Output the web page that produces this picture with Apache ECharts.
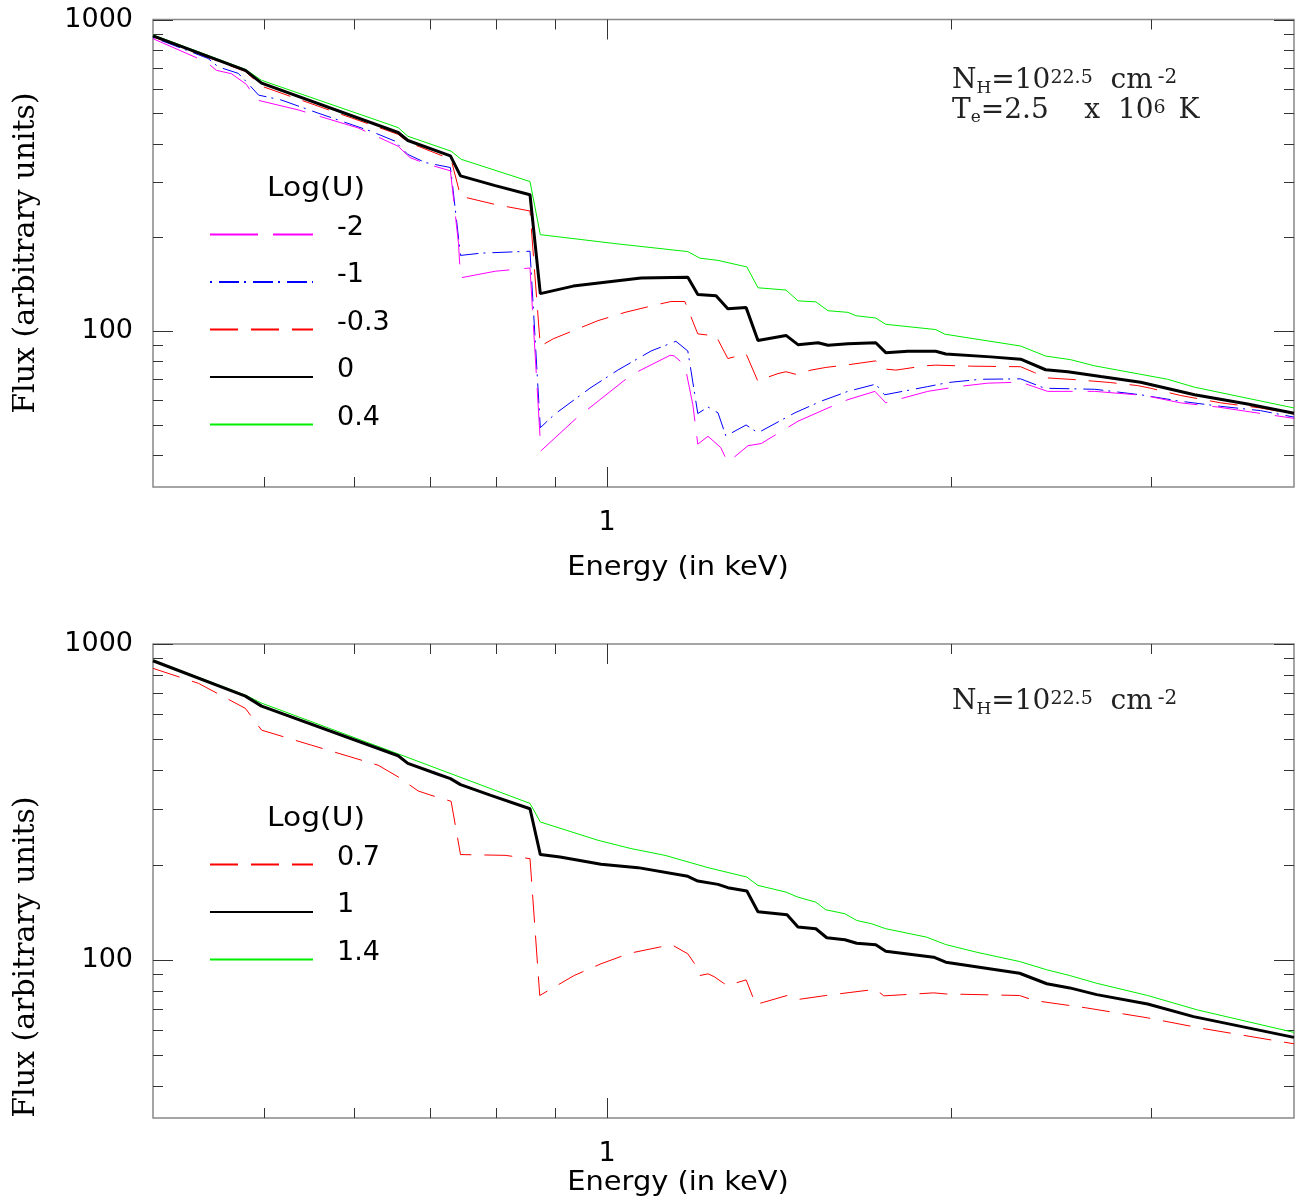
<!DOCTYPE html>
<html>
<head>
<meta charset="utf-8">
<script src="https://cdn.jsdelivr.net/npm/echarts@6/dist/echarts.min.js"></script>
<style>
  html, body { margin: 0; padding: 0; background: #fff; }
  #chart { width: 1308px; height: 1201px; }
</style>
</head>
<body>
<div id="chart"></div>
<script>
// ---- axis ranges and ticks (energy in keV, flux in arbitrary units) ----
const energyMin = 0.4;
const energyMax = 4;
const fluxMin = Math.pow(10, 1.5);
const fluxMax = 1000;

const energyMajorTicks = [1];
const energyMinorTicks = [0.5, 0.6, 0.7, 0.8, 0.9, 2, 3];
const fluxMajorTicks = [100, 1000];
const fluxMinorTicks = [40, 50, 60, 70, 80, 90, 200, 300, 400, 500, 600, 700, 800, 900];
const energyLabels = [1];
const fluxLabels = [100, 1000];

// ---- legend entries: Log(U) of each spectrum ----
const logUTop = ['-2', '-1', '-0.3', '0', '0.4'];
const logUBottom = ['0.7', '1', '1.4'];

// ---- upper panel spectra: [energy keV, flux] ----
const specLogUm2 = [[0.4,868],[0.4456,730],[0.4546,687],[0.4686,670],[0.483,619],[0.493,552],[0.536,513],[0.605,449],[0.656,392],[0.672,360.5],[0.693,345],[0.729,327],[0.741,191],[0.744,148.3],[0.798,155.7],[0.856,159.5],[0.875,41.3],[0.9375,52.1],[1.050,72.4],[1.136,83.7],[1.145,83.3],[1.170,77.8],[1.189,58.1],[1.201,43.4],[1.226,46.0],[1.258,42.3],[1.276,37.9],[1.329,42.9],[1.365,43.6],[1.470,51.4],[1.562,56.7],[1.626,60.3],[1.717,64.1],[1.755,58.9],[1.910,64.1],[2.030,66.4],[2.156,68.1],[2.304,68.6],[2.433,64.1],[2.675,64.1],[2.959,62.2],[3.18,58.9],[3.428,57.1],[4.0,52.5]];

const specLogUm1 = [[0.4,876],[0.447,750],[0.4565,704],[0.475,672],[0.483,631],[0.495,572],[0.518,552],[0.558,501],[0.621,438],[0.652,407],[0.656,397],[0.669,369],[0.693,347.5],[0.729,335],[0.733,283],[0.744,175],[0.776,178],[0.856,180.5],[0.874,49.0],[0.900,54.2],[0.966,65.6],[1.022,75.0],[1.093,86.4],[1.149,92.8],[1.177,86.4],[1.185,74.1],[1.201,54.4],[1.226,57.1],[1.251,54.7],[1.271,46.1],[1.324,50.0],[1.356,47.2],[1.461,54.7],[1.540,59.6],[1.626,64.1],[1.720,67.6],[1.751,62.5],[1.910,66.4],[1.989,68.4],[2.126,70.1],[2.304,70.3],[2.418,65.6],[2.675,65.1],[2.935,62.5],[3.18,59.6],[3.449,57.4],[3.738,55.6],[4.0,53.0]];

const specLogUm03 = [[0.4,880],[0.482,681],[0.498,611],[0.656,428],[0.669,404],[0.730,356],[0.744,271],[0.798,255],[0.856,243],[0.874,89.5],[0.897,94.5],[0.982,108.1],[1.037,114.9],[1.104,121.5],[1.138,124.5],[1.170,124.5],[1.201,98.0],[1.246,96.5],[1.276,81.7],[1.324,84.5],[1.356,69.0],[1.376,70.7],[1.412,73.1],[1.435,74.1],[1.464,72.7],[1.509,75.0],[1.555,76.5],[1.626,78.0],[1.720,80.3],[1.751,75.6],[1.791,75.0],[1.899,77.4],[1.941,77.8],[2.092,77.2],[2.304,76.9],[2.370,73.6],[2.433,70.8],[2.585,69.8],[2.763,68.4],[2.917,66.9],[2.995,65.6],[3.18,62.2],[3.449,58.9],[3.738,56.7],[4.0,54.2]];

const specLogU0 = [[0.4,886],[0.482,687],[0.498,625],[0.656,434],[0.669,409],[0.729,365],[0.744,315],[0.798,293],[0.856,274],[0.874,132],[0.934,139.5],[1.071,148],[1.177,149],[1.201,131],[1.246,130],[1.276,118],[1.324,119],[1.356,93.4],[1.435,96.9],[1.470,90.5],[1.531,91.8],[1.562,90.1],[1.626,91.1],[1.720,91.8],[1.755,85.3],[1.835,86.2],[1.941,86.2],[1.981,84.5],[2.169,82.7],[2.304,81.3],[2.423,75.2],[2.534,74.1],[2.708,71.5],[2.935,68.6],[3.273,62.5],[3.642,58.4],[4.0,54.5]];

const specLogU04 = [[0.4,893],[0.482,692],[0.498,638],[0.656,450],[0.669,422],[0.730,378],[0.745,356],[0.856,302],[0.874,204],[1.016,191],[1.177,180],[1.206,171.5],[1.251,168.7],[1.326,160.7],[1.356,137.8],[1.435,135.5],[1.470,125.1],[1.524,124.2],[1.562,116.3],[1.626,114.9],[1.652,112.1],[1.720,110.2],[1.755,105.2],[1.941,101.2],[1.977,97.8],[2.304,89.6],[2.423,83.2],[2.549,81.0],[2.675,77.4],[3.099,70.1],[3.273,66.1],[4.0,56.7]];

// ---- lower panel spectra: [energy keV, flux] ----
const specLogU07 = [[0.4,837.5],[0.4385,750.6],[0.482,625.5],[0.498,533.8],[0.5506,478.6],[0.630,413.5],[0.656,379.8],[0.683,342.8],[0.701,332.2],[0.730,317.9],[0.744,215.6],[0.814,214.4],[0.856,209.3],[0.873,77.2],[0.9357,89.3],[0.988,97.3],[1.0474,105.1],[1.111,109.8],[1.140,111.7],[1.177,104.6],[1.199,94.9],[1.206,89.3],[1.226,90.4],[1.241,88.6],[1.274,83.0],[1.324,86.5],[1.350,72.3],[1.372,73.5],[1.438,77.2],[1.470,75.0],[1.555,77.2],[1.720,80.8],[1.748,77.0],[1.933,78.7],[1.981,78.1],[2.299,77.2],[2.370,74.4],[2.627,70.6],[2.977,65.6],[3.319,60.8],[4.0,54.3]];

const specLogU1 = [[0.4,885],[0.482,684],[0.498,636],[0.656,443],[0.669,419],[0.711,387],[0.729,375],[0.744,359],[0.791,332],[0.856,301],[0.874,215.6],[0.9095,211.9],[0.988,200.8],[1.0645,196],[1.177,184],[1.201,177.8],[1.251,173.5],[1.276,169.4],[1.326,165.3],[1.356,142.2],[1.438,139.1],[1.470,127.1],[1.524,125.6],[1.558,117.6],[1.616,115.9],[1.655,113.0],[1.720,111.7],[1.755,106.6],[1.933,102.1],[1.981,98.4],[2.299,90.8],[2.429,84.1],[2.544,81.6],[2.686,77.7],[2.977,72.6],[3.266,66.2],[4.0,56.9]];

const specLogU14 = [[0.4,890],[0.482,689],[0.498,650],[0.656,449],[0.856,313],[0.874,273.4],[0.982,239.2],[1.0496,225.2],[1.124,214.4],[1.226,196],[1.326,183],[1.356,172.2],[1.435,164],[1.470,158.1],[1.524,152.4],[1.555,144.2],[1.616,140.1],[1.655,133.4],[1.706,130.2],[1.755,125.6],[1.906,118.1],[1.981,111.9],[2.109,105.8],[2.299,98.9],[2.429,93.1],[2.544,89.3],[2.686,84.4],[2.977,77.2],[3.292,69.5],[4.0,59.0]];

// ---- drawing ----
const SANS = '"DejaVu Sans", "Liberation Sans", sans-serif';
const SERIF = '"DejaVu Serif", "Liberation Serif", serif';

const grids = [
  { left: 153, top: 13, width: 1141, height: 474 },
  { left: 153, top: 644, width: 1141, height: 474 }
];

function isListed(v, list) {
  return list.some(t => Math.abs(v - t) < 1e-6 * t);
}

function xAxisFor(i) {
  return {
    type: 'log', logBase: 10, gridIndex: i, min: energyMin, max: energyMax,
    axisLine: { show: false }, axisTick: { show: false }, splitLine: { show: false },
    axisLabel: {
      showMinLabel: true, showMaxLabel: true, margin: 22,
      fontFamily: SANS, fontSize: 27, color: '#000', lineHeight: 27,
      formatter: v => isListed(v, energyLabels) ? String(Math.round(v)) : ''
    }
  };
}

function yAxisFor(i) {
  return {
    type: 'log', logBase: 10, gridIndex: i, min: fluxMin, max: fluxMax,
    axisLine: { show: false }, axisTick: { show: false }, splitLine: { show: false },
    axisLabel: {
      showMinLabel: true, showMaxLabel: true, margin: 20,
      fontFamily: SANS, fontSize: 27, color: '#000', lineHeight: 27,
      padding: [12, 0, 0, 0],
      formatter: v => isListed(v, fluxLabels) ? String(Math.round(v)) : ''
    }
  };
}

function lineSeries(name, data, i, color, width, type, z) {
  return {
    name, type: 'line', xAxisIndex: i, yAxisIndex: i, data,
    symbol: 'none', showSymbol: false, silent: true, z,
    lineStyle: { color, width, type },
    itemStyle: { color },
    emphasis: { disabled: true }
  };
}

// tick marks on all four sides of a panel, placed through the axes' own scales
function tickRows() {
  const rows = [];
  energyMinorTicks.forEach(v => rows.push([v, fluxMin, 10, 0]));
  energyMajorTicks.forEach(v => rows.push([v, fluxMin, 20, 0]));
  fluxMinorTicks.forEach(v => rows.push([energyMin, v, 10, 1]));
  fluxMajorTicks.forEach(v => rows.push([energyMin, v, 20, 1]));
  return rows;
}

function renderTick(params, api) {
  const len = api.value(2);
  const kind = api.value(3);
  const style = { stroke: '#333', lineWidth: 1 };
  if (kind === 0) {
    const e = api.value(0);
    const b = api.coord([e, fluxMin]);
    const t = api.coord([e, fluxMax]);
    const x = Math.round(b[0]) + 0.5;
    return { type: 'group', children: [
      { type: 'line', shape: { x1: x, y1: b[1], x2: x, y2: b[1] - len }, style },
      { type: 'line', shape: { x1: x, y1: t[1], x2: x, y2: t[1] + len }, style }
    ] };
  }
  const f = api.value(1);
  const l = api.coord([energyMin, f]);
  const r = api.coord([energyMax, f]);
  const y = Math.round(l[1]) + 0.5;
  return { type: 'group', children: [
    { type: 'line', shape: { x1: l[0], y1: y, x2: l[0] + len, y2: y }, style },
    { type: 'line', shape: { x1: r[0], y1: y, x2: r[0] - len, y2: y }, style }
  ] };
}

function tickSeries(i) {
  return {
    type: 'custom', xAxisIndex: i, yAxisIndex: i, data: tickRows(),
    encode: { x: 0, y: 1 }, renderItem: renderTick, silent: true, clip: false, z: 1
  };
}

// legend: line sample with its Log(U) value set a little above it
function legendFor(names, top) {
  return {
    data: names, orient: 'vertical', left: 209, top, padding: 0,
    itemGap: 6.5, itemWidth: 103, itemHeight: 14, selectedMode: false,
    itemStyle: { opacity: 0 },
    formatter: name => '{t|' + name + '}',
    textStyle: {
      color: '#000',
      rich: {
        t: { fontFamily: SANS, fontSize: 27, color: '#000', lineHeight: 29.3, padding: [0, 0, 14, 19] }
      }
    }
  };
}

const annotRich = {
  b: { fontFamily: SERIF, fontSize: 28, lineHeight: 30, padding: [0, 0, 6, 0], verticalAlign: 'top', color: '#222' },
  sup: { fontFamily: SERIF, fontSize: 19, lineHeight: 19, padding: [2, 0, 0, 0], verticalAlign: 'top', color: '#222' },
  sup2: { fontFamily: SERIF, fontSize: 20, lineHeight: 20, padding: [1, 0, 0, 5], verticalAlign: 'top', color: '#222' },
  supK: { fontFamily: SERIF, fontSize: 19, lineHeight: 19, padding: [2, 0, 0, 0], verticalAlign: 'top', color: '#222' },
  k: { fontFamily: SERIF, fontSize: 28, lineHeight: 30, padding: [0, 0, 6, 4], verticalAlign: 'top', color: '#222' },
  sub: { fontFamily: SERIF, fontSize: 17, lineHeight: 17, padding: [0, 0, 0, 0], verticalAlign: 'bottom', color: '#222' },
  sube: { fontFamily: SERIF, fontSize: 17, lineHeight: 17, padding: [12, 0, 0, 0], verticalAlign: 'top', color: '#222' }
};

function richText(x, y, text) {
  return { type: 'text', x, y, silent: true,
    style: { text, rich: annotRich, fill: '#222', align: 'left', verticalAlign: 'top' } };
}

function plainText(x, y, text, font, opts) {
  return Object.assign({ type: 'text', x, y, silent: true,
    style: { text, font, fill: '#000', align: 'center', verticalAlign: 'middle' } }, opts || {});
}

const option = {
  animation: false,
  backgroundColor: '#fff',
  grid: grids.map(g => Object.assign({ show: true, borderColor: '#888', borderWidth: 1.5, backgroundColor: 'transparent' }, g)),
  xAxis: [xAxisFor(0), xAxisFor(1)],
  yAxis: [yAxisFor(0), yAxisFor(1)],
  legend: [legendFor(logUTop, 214), legendFor(logUBottom, 844)],
  series: [
    tickSeries(0),
    tickSeries(1),
    lineSeries('0.4', specLogU04, 0, '#00ee00', 1, 'solid', 2),
    lineSeries('-0.3', specLogUm03, 0, '#ff0000', 1, [28, 13], 3),
    lineSeries('-1', specLogUm1, 0, '#0000ff', 1, [2, 7, 20, 5], 3),
    lineSeries('-2', specLogUm2, 0, '#ff00ff', 1, [48, 15], 3),
    lineSeries('0', specLogU0, 0, '#000000', 3, 'solid', 4),
    lineSeries('1.4', specLogU14, 1, '#00ee00', 1, 'solid', 2),
    lineSeries('0.7', specLogU07, 1, '#ff0000', 1, [28, 13], 3),
    lineSeries('1', specLogU1, 1, '#000000', 3, 'solid', 4)
  ],
  graphic: [
    plainText(316, 189, 'Log(U)', '27px ' + SANS, { scaleX: 1.1 }),
    plainText(316, 819, 'Log(U)', '27px ' + SANS, { scaleX: 1.1 }),
    plainText(678, 568, 'Energy (in keV)', '27px ' + SANS, { scaleX: 1.07 }),
    plainText(678, 1183, 'Energy (in keV)', '27px ' + SANS, { scaleX: 1.07 }),
    plainText(26, 253, 'Flux (arbitrary units)', '30px ' + SERIF, { rotation: Math.PI / 2 }),
    plainText(26, 957, 'Flux (arbitrary units)', '30px ' + SERIF, { rotation: Math.PI / 2 }),
    richText(952, 67, '{b|N}{sub|H}{b|=10}{sup|22.5}{b|  cm}{sup2|-2}'),
    richText(952, 97, '{b|T}{sube|e}{b|=2.5    x  10}{supK|6}{k| K}'),
    richText(952, 688, '{b|N}{sub|H}{b|=10}{sup|22.5}{b|  cm}{sup2|-2}')
  ]
};

const chart = echarts.init(document.getElementById('chart'), null, { renderer: 'canvas' });
chart.setOption(option);
</script>
</body>
</html>
